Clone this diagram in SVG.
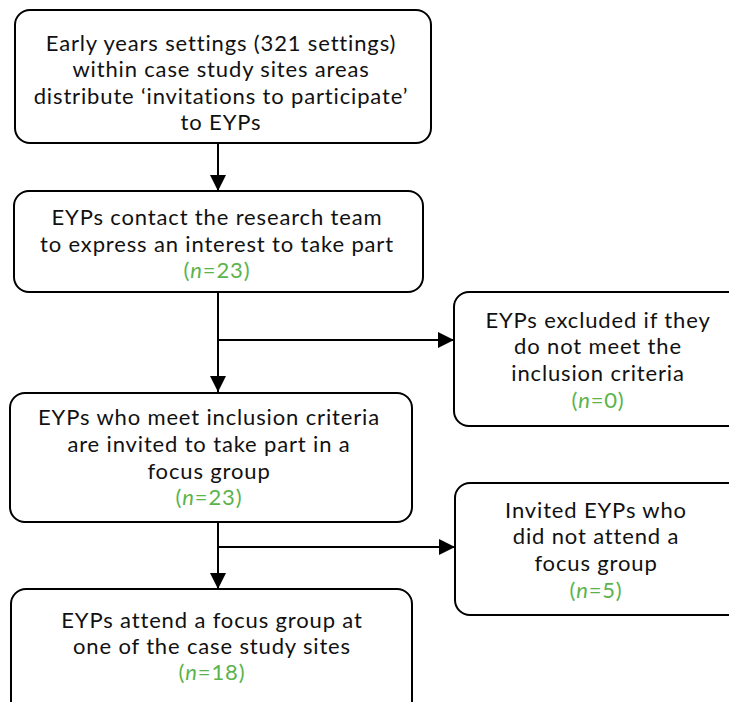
<svg xmlns="http://www.w3.org/2000/svg" width="729" height="702" viewBox="0 0 729 702">
  <defs>
    <marker id="arrow" viewBox="0 0 10 10" refX="10" refY="5" markerWidth="16" markerHeight="16" markerUnits="userSpaceOnUse" orient="auto">
      <path d="M0,0 L10,5 L0,10 Z" fill="#000"/>
    </marker>
    <style>
      .box { fill: #fff; stroke: #000; stroke-width: 2; }
      .t { font-family: Lato, "Open Sans", sans-serif; font-size: 22px; letter-spacing: 0.85px; fill: #111; text-anchor: middle; }
      .n { fill: #5ab44b; }
      .link { stroke: #000; stroke-width: 2; fill: none; }
    </style>
  </defs>
  <rect width="729" height="702" fill="#fff"/>

  <g id="connectors">
    <line class="link" x1="218" y1="143" x2="218" y2="191" marker-end="url(#arrow)"/>
    <line class="link" x1="218" y1="292" x2="218" y2="392" marker-end="url(#arrow)"/>
    <line class="link" x1="218" y1="340" x2="454" y2="340" marker-end="url(#arrow)"/>
    <line class="link" x1="218" y1="522" x2="218" y2="589" marker-end="url(#arrow)"/>
    <line class="link" x1="218" y1="547" x2="455" y2="547" marker-end="url(#arrow)"/>
  </g>

  <g id="settings">
    <rect class="box" x="15" y="10" width="416" height="133" rx="15"/>
    <text class="t" x="221" y="51">Early years settings (321 settings)</text>
    <text class="t" x="221" y="77">within case study sites areas</text>
    <text class="t" x="221" y="104">distribute ‘invitations to participate’</text>
    <text class="t" x="221" y="130">to EYPs</text>
  </g>

  <g id="contact">
    <rect class="box" x="14" y="191" width="409" height="101" rx="15"/>
    <text class="t" x="217" y="225">EYPs contact the research team</text>
    <text class="t" x="217" y="252">to express an interest to take part</text>
    <text class="t n" x="217" y="278">(<tspan font-style="italic">n</tspan>=23)</text>
  </g>

  <g id="excluded">
    <rect class="box" x="454" y="292" width="290" height="134" rx="15"/>
    <text class="t" x="598" y="328">EYPs excluded if they</text>
    <text class="t" x="598" y="354">do not meet the</text>
    <text class="t" x="598" y="381">inclusion criteria</text>
    <text class="t n" x="598" y="408">(<tspan font-style="italic">n</tspan>=0)</text>
  </g>

  <g id="invited">
    <rect class="box" x="10" y="393" width="402" height="129" rx="15"/>
    <text class="t" x="209" y="425">EYPs who meet inclusion criteria</text>
    <text class="t" x="209" y="452">are invited to take part in a</text>
    <text class="t" x="209" y="479">focus group</text>
    <text class="t n" x="209" y="505">(<tspan font-style="italic">n</tspan>=23)</text>
  </g>

  <g id="not-attended">
    <rect class="box" x="455" y="483" width="290" height="132" rx="15"/>
    <text class="t" x="596" y="518">Invited EYPs who</text>
    <text class="t" x="596" y="544">did not attend a</text>
    <text class="t" x="596" y="571">focus group</text>
    <text class="t n" x="596" y="598">(<tspan font-style="italic">n</tspan>=5)</text>
  </g>

  <g id="attended">
    <rect class="box" x="11" y="589" width="401" height="130" rx="15"/>
    <text class="t" x="212" y="628">EYPs attend a focus group at</text>
    <text class="t" x="212" y="654">one of the case study sites</text>
    <text class="t n" x="212" y="680">(<tspan font-style="italic">n</tspan>=18)</text>
  </g>
</svg>
